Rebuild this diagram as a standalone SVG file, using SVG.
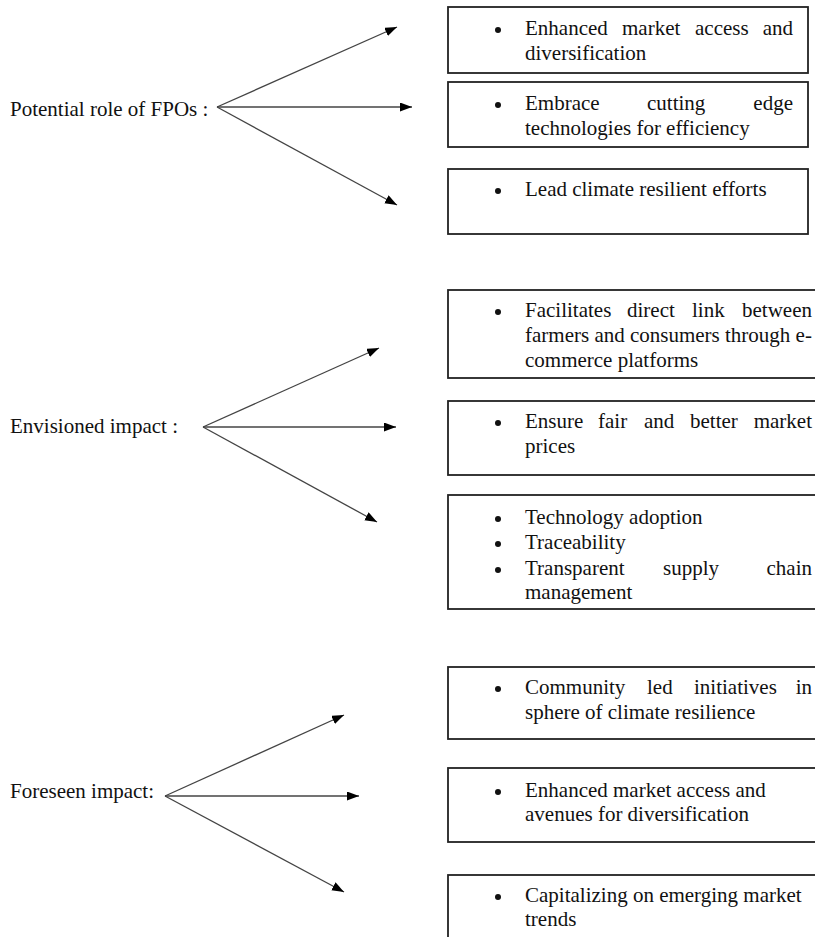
<svg xmlns="http://www.w3.org/2000/svg" width="815" height="937" viewBox="0 0 815 937">
<style>
text{font-family:'Liberation Serif',Tinos,'Times New Roman',Times,serif;font-size:21px;fill:#111}
.box{fill:#fff;stroke:#222;stroke-width:1.8}
.ln{stroke:#444;stroke-width:1.3;fill:none}
.b{fill:#111}
</style>
<defs>
<marker id="ah" markerUnits="userSpaceOnUse" markerWidth="13" markerHeight="10" refX="12" refY="4.5" orient="auto">
<path d="M0,0 L12,4.5 L0,9 z" fill="#000"/>
</marker>
</defs>
<rect width="815" height="937" fill="#fff"/>

<g id="label-fpo"><text x="10" y="116">Potential role of FPOs :</text></g>
<g id="label-envisioned"><text x="10" y="433">Envisioned impact :</text></g>
<g id="label-foreseen"><text x="10" y="798">Foreseen impact:</text></g>

<g id="connectors">
<line class="ln" x1="217" y1="107" x2="397" y2="27" marker-end="url(#ah)"/>
<line class="ln" x1="217" y1="107" x2="412" y2="107" marker-end="url(#ah)"/>
<line class="ln" x1="217" y1="107" x2="397" y2="205" marker-end="url(#ah)"/>
<line class="ln" x1="203" y1="427" x2="379" y2="348" marker-end="url(#ah)"/>
<line class="ln" x1="203" y1="427" x2="396" y2="427" marker-end="url(#ah)"/>
<line class="ln" x1="203" y1="427" x2="377" y2="522" marker-end="url(#ah)"/>
<line class="ln" x1="165" y1="796" x2="344" y2="715" marker-end="url(#ah)"/>
<line class="ln" x1="165" y1="796" x2="359" y2="796" marker-end="url(#ah)"/>
<line class="ln" x1="165" y1="796" x2="344" y2="892" marker-end="url(#ah)"/>
</g>

<g id="box1">
<rect class="box" x="448" y="7" width="360" height="66"/>
<circle class="b" cx="498" cy="30" r="3"/>
<text y="35"><tspan x="525">Enhanced</tspan><tspan x="622">market</tspan><tspan x="695">access</tspan><tspan x="793" text-anchor="end">and</tspan></text>
<text x="525" y="60">diversification</text>
</g>

<g id="box2">
<rect class="box" x="448" y="82" width="360" height="65"/>
<circle class="b" cx="498" cy="105" r="3"/>
<text y="110"><tspan x="525">Embrace</tspan><tspan x="647">cutting</tspan><tspan x="793" text-anchor="end">edge</tspan></text>
<text x="525" y="135">technologies for efficiency</text>
</g>

<g id="box3">
<rect class="box" x="448" y="169" width="360" height="65"/>
<circle class="b" cx="498" cy="191" r="3"/>
<text x="525" y="196">Lead climate resilient efforts</text>
</g>

<g id="box4">
<rect class="box" x="448" y="290" width="385" height="88"/>
<circle class="b" cx="498" cy="312" r="3"/>
<text y="317"><tspan x="525">Facilitates</tspan><tspan x="627">direct</tspan><tspan x="692">link</tspan><tspan x="812" text-anchor="end">between</tspan></text>
<text x="525" y="342">farmers and consumers through e-</text>
<text x="525" y="367">commerce platforms</text>
</g>

<g id="box5">
<rect class="box" x="448" y="401" width="385" height="74"/>
<circle class="b" cx="498" cy="423" r="3"/>
<text y="428"><tspan x="525">Ensure</tspan><tspan x="598">fair</tspan><tspan x="644">and</tspan><tspan x="690">better</tspan><tspan x="812" text-anchor="end">market</tspan></text>
<text x="525" y="453">prices</text>
</g>

<g id="box6">
<rect class="box" x="448" y="495" width="385" height="114"/>
<circle class="b" cx="498" cy="519" r="3"/>
<circle class="b" cx="498" cy="544" r="3"/>
<circle class="b" cx="498" cy="570" r="3"/>
<text x="525" y="524">Technology adoption</text>
<text x="525" y="549">Traceability</text>
<text y="575"><tspan x="525">Transparent</tspan><tspan x="663">supply</tspan><tspan x="812" text-anchor="end">chain</tspan></text>
<text x="525" y="599">management</text>
</g>

<g id="box7">
<rect class="box" x="448" y="667" width="385" height="72"/>
<circle class="b" cx="498" cy="689" r="3"/>
<text y="694"><tspan x="525">Community</tspan><tspan x="647">led</tspan><tspan x="694">initiatives</tspan><tspan x="812" text-anchor="end">in</tspan></text>
<text x="525" y="719">sphere of climate resilience</text>
</g>

<g id="box8">
<rect class="box" x="448" y="768" width="385" height="74"/>
<circle class="b" cx="498" cy="792" r="3"/>
<text x="525" y="797">Enhanced market access and</text>
<text x="525" y="821">avenues for diversification</text>
</g>

<g id="box9">
<rect class="box" x="448" y="875" width="385" height="80"/>
<circle class="b" cx="498" cy="897" r="3"/>
<text x="525" y="902">Capitalizing on emerging market</text>
<text x="525" y="926">trends</text>
</g>
</svg>
